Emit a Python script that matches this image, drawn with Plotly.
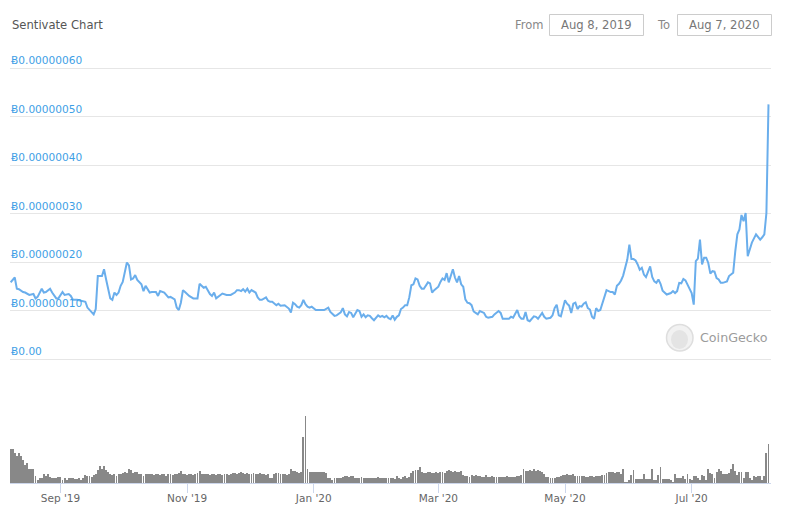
import pandas as pd
import plotly.graph_objects as go

# page is 793x520; the html body adds an 8px margin, so the figure is 8px smaller
OFF = 8
W, H = 793 - OFF, 520 - OFF

# ---------------- data ----------------
start_date = "2019-08-08"

# day offsets from start_date and price in 1e-8 BTC (satoshi)
price_day = [
    0, 2, 3, 4, 6, 7, 9, 11, 12, 13, 15, 16, 17, 19, 20, 22, 23, 25, 26, 28,
    29, 30, 32, 34, 36, 37, 39, 40, 41, 42, 44, 45, 46, 47, 48, 49, 50, 51, 52, 53,
    54, 56, 57, 58, 59, 60, 61, 63, 64, 65, 67, 68, 70, 71, 72, 74, 76, 77, 79, 80,
    81, 82, 83, 84, 86, 88, 90, 91, 93, 94, 95, 96, 97, 98, 99, 100, 102, 104, 106, 108,
    109, 110, 111, 112, 113, 114, 115, 116, 118, 119, 120, 121, 123, 124, 125, 126, 128, 129, 130, 132,
    133, 134, 135, 136, 137, 138, 139, 140, 141, 142, 143, 144, 145, 146, 147, 148, 149, 151, 153, 154,
    156, 157, 159, 160, 161, 162, 163, 164, 165, 167, 168, 169, 170, 171, 172, 173, 174, 175, 177, 178,
    179, 180, 181, 182, 183, 184, 185, 186, 187, 188, 189, 190, 191, 192, 193, 194, 195, 196, 197, 198,
    199, 200, 201, 202, 203, 204, 205, 206, 207, 208, 209, 210, 211, 212, 213, 214, 215, 216, 217, 218,
    219, 220, 221, 222, 223, 224, 225, 226, 228, 229, 230, 232, 233, 235, 236, 237, 238, 240, 241, 242,
    244, 245, 246, 247, 248, 249, 250, 251, 252, 253, 254, 256, 257, 258, 260, 261, 262, 263, 264, 265,
    266, 267, 268, 269, 270, 271, 272, 273, 274, 275, 276, 277, 278, 279, 280, 281, 282, 283, 284, 285,
    286, 287, 289, 290, 291, 292, 293, 294, 295, 296, 297, 298, 299, 300, 301, 302, 303, 304, 305, 306,
    307, 308, 309, 310, 311, 312, 313, 314, 316, 317, 318, 319, 320, 321, 322, 323, 324, 325, 326, 327,
    328, 329, 330, 331, 332, 333, 334, 335, 336, 337, 338, 339, 340, 341, 342, 343, 345, 346, 347, 348,
    349, 350, 351, 352, 353, 354, 355, 356, 357, 359, 360, 361, 362, 363, 364, 365,
]
price_sat = [
    15.8, 16.8, 14.5, 14.4, 13.8, 13.7, 13.2, 13.4, 12.5, 12.8, 14.5, 13.7, 13.8, 14.5, 13.7, 12.5, 12.5, 13.8, 13.2, 13.4,
    13.0, 12.2, 12.2, 12.0, 11.8, 10.6, 9.6, 9.2, 10.3, 17.1, 17.1, 18.5, 16.4, 14.4, 12.5, 12.2, 13.7, 13.2, 13.7, 15.1,
    15.9, 19.9, 19.3, 16.4, 16.6, 17.3, 16.3, 15.4, 14.0, 15.1, 13.7, 13.8, 13.8, 13.0, 14.0, 13.7, 12.7, 12.8, 12.3, 10.6,
    10.1, 11.6, 14.2, 13.8, 13.0, 12.5, 12.5, 15.5, 14.7, 14.9, 14.2, 13.4, 13.0, 13.7, 12.5, 12.8, 13.5, 13.2, 13.2, 13.7,
    14.2, 14.2, 14.0, 14.4, 13.9, 14.5, 13.7, 14.2, 13.7, 12.7, 12.2, 12.2, 12.7, 12.0, 11.8, 11.8, 11.1, 11.4, 11.0, 11.1,
    10.8, 10.4, 9.6, 11.6, 11.3, 10.8, 10.6, 11.1, 12.2, 11.3, 10.8, 10.6, 10.8, 10.4, 10.1, 10.1, 10.1, 10.1, 10.6, 9.7,
    8.9, 9.0, 9.6, 10.5, 9.2, 8.8, 9.7, 9.5, 8.6, 10.1, 9.9, 8.7, 9.2, 8.6, 9.0, 8.9, 8.4, 8.0, 9.0, 8.7,
    8.9, 8.6, 8.9, 8.4, 8.2, 9.0, 8.1, 8.7, 9.0, 10.3, 10.6, 11.1, 11.1, 12.7, 15.2, 15.4, 16.6, 16.4, 15.1, 14.5,
    14.5, 15.1, 15.8, 15.6, 13.7, 14.2, 14.6, 14.9, 15.9, 16.6, 16.3, 17.7, 15.8, 17.3, 18.5, 16.8, 15.8, 17.1, 15.4, 14.9,
    12.3, 11.6, 11.5, 11.1, 9.8, 9.5, 9.2, 9.9, 9.5, 8.7, 8.5, 8.7, 9.2, 9.9, 9.5, 8.3, 8.3, 8.3, 8.7, 8.5,
    10.1, 8.8, 8.3, 8.3, 9.7, 8.0, 7.8, 8.2, 8.8, 8.7, 8.3, 9.5, 8.7, 8.3, 8.5, 9.0, 10.5, 11.2, 9.0, 8.8,
    10.2, 12.1, 11.4, 11.0, 9.5, 11.4, 11.6, 10.3, 10.9, 10.8, 11.4, 11.7, 10.5, 10.2, 8.7, 8.3, 10.5, 9.9, 10.1, 11.6,
    12.6, 14.2, 13.8, 13.8, 13.3, 15.1, 15.5, 16.2, 17.2, 18.6, 20.5, 23.6, 20.6, 20.6, 20.3, 19.5, 18.4, 18.8, 17.4, 16.9,
    18.1, 19.1, 16.9, 16.0, 15.7, 16.4, 15.5, 14.1, 13.3, 13.5, 13.6, 14.0, 13.6, 14.0, 15.7, 15.6, 16.5, 16.2, 15.4, 14.7,
    13.6, 11.2, 20.2, 20.7, 24.6, 19.5, 20.9, 20.9, 19.8, 17.6, 18.1, 18.0, 16.7, 16.4, 15.7, 15.7, 16.0, 17.1, 17.4, 17.8,
    22.2, 25.7, 26.7, 29.7, 28.4, 30.1, 21.2, 22.6, 24.0, 25.7, 25.1, 24.6, 25.1, 25.7, 30.1, 52.5,
]

# daily volume (relative units), one value per day from start_date
volume = [
    34, 34, 30, 27, 30, 27, 23, 18, 20, 14, 14, 14, 7,
    3, 5, 5, 9, 7, 9, 6, 5, 5, 5, 6, 6, 3, 5, 3, 5, 5, 5, 4, 4, 5, 3, 5, 8, 7, 7, 6, 8,
    9, 13, 17, 14, 17, 13, 11, 9, 8, 9, 7, 9, 9, 10, 11, 10, 14, 13, 10, 11, 11, 9, 9, 7, 9, 9,
    9, 9, 8, 9, 9, 8, 9, 9, 7, 9,
    9, 8, 9, 9, 10, 12, 9, 9, 8, 9,
    9, 8, 9, 10, 12, 9, 9, 9, 9, 8,
    9, 9, 8, 9, 9, 8, 9, 9, 8, 9,
    10, 10, 9, 10, 11, 10, 9, 10, 9, 9,
    10, 9, 9, 10, 9, 9, 8, 9, 5, 5,
    9, 10, 10, 9, 9, 9, 8, 9,
    14, 12, 12, 11, 10, 11, 46, 67, 14, 11, 11, 11, 11, 11, 11, 11, 11, 10,
    5, 5, 3, 5, 5, 5, 5, 6, 7, 7,
    6, 7, 7, 5, 5, 5, 6, 5, 5, 5,
    5, 5, 5, 5, 6, 5, 5, 5, 5, 5,
    5, 5, 4, 7, 5,
    4, 6, 7, 5, 6,
    10, 12, 13, 13, 16,
    11, 10, 10, 11, 11, 10, 10, 11, 10, 11, 11, 10,
    12, 13, 12,
    11, 12, 11, 11, 12,
    8, 7, 7, 6, 8, 7, 8, 7, 7, 6, 6, 8, 6, 6, 7, 6,
    6, 6, 6, 6, 6, 7, 6, 6, 6, 6, 7, 7, 8,
    14,
    12, 12, 13, 12, 14, 12, 13, 12, 11, 9,
    6, 6, 5, 5, 5, 6, 6, 7,
    8, 8, 9, 8, 8, 9, 7, 7, 7, 7, 7,
    6, 6, 7, 7, 6, 7, 7, 7, 8, 8,
    10, 11, 11, 11, 10, 11, 11, 9,
    14,
    1, 1, 3, 8, 13, 4, 4, 4, 4, 9, 4, 4, 4, 14, 3, 3, 8, 16, 4, 4,
    4, 4, 3, 1, 9, 5, 5, 5, 7, 4, 9, 4, 3, 7, 7, 5, 3, 8, 7, 3,
    14, 10, 9, 5, 11, 14, 12, 9, 9, 9, 10, 14, 19, 12, 8, 11, 11, 5, 11, 11,
    5, 3, 7, 6, 7, 7, 3, 7, 30, 39,
]

y_tick_vals = [0, 1e-7, 2e-7, 3e-7, 4e-7, 5e-7, 6e-7]
y_tick_text = ["Ƀ0.00", "Ƀ0.00000010", "Ƀ0.00000020", "Ƀ0.00000030",
               "Ƀ0.00000040", "Ƀ0.00000050", "Ƀ0.00000060"]

title_text = "Sentivate Chart"
from_text = "Aug 8, 2019"
to_text = "Aug 7, 2020"

# ---------------- build ----------------
t0 = pd.Timestamp(start_date)
price_dates = [t0 + pd.Timedelta(days=d) for d in price_day]
price_vals = [v * 1e-8 for v in price_sat]
vol_dates = [t0 + pd.Timedelta(days=i) for i in range(len(volume))]

FONT = "DejaVu Sans"


def px_x(px):
    # page pixel -> paper fraction
    return (px - OFF) / W


def px_y(py):
    return 1 - (py - OFF) / H


fig = go.Figure()
fig.add_trace(go.Bar(
    x=vol_dates, y=volume, xaxis="x", yaxis="y2",
    marker=dict(color="#888888", line=dict(width=0)),
    width=0.44 * 86400000, showlegend=False, hoverinfo="skip",
))
fig.add_trace(go.Scatter(
    x=price_dates, y=price_vals, xaxis="x", yaxis="y",
    mode="lines", line=dict(color="#6aaeec", width=2),
    showlegend=False,
))

x_start = t0 - pd.Timedelta(hours=7)
x_end = t0 + pd.Timedelta(days=366, hours=5)

# price axis: 0 at page y=359, 6e-7 at y=68 ; domain top extended to y=66
price_top = 6e-7 * (359 - 66) / (359 - 68)

fig.update_layout(
    template="none",
    width=W, height=H,
    margin=dict(l=0, r=0, t=0, b=0, pad=0),
    paper_bgcolor="white", plot_bgcolor="white",
    font=dict(family=FONT, color="#666666"),
    bargap=0,
    xaxis=dict(
        domain=[px_x(10), px_x(771)], anchor="y2", automargin=False,
        range=[x_start, x_end], type="date",
        showgrid=False, zeroline=False,
        showline=True, linecolor="#ccd6eb", linewidth=1,
        ticks="outside", ticklen=9, tickcolor="#ccd6eb", tickwidth=1,
        tick0="2019-09-01", dtick="M2", tickformat="%b '%y",
        ticklabelstandoff=-4,
        tickfont=dict(size=10.5, color="#666666", family=FONT),
    ),
    yaxis=dict(
        domain=[px_y(359), px_y(66)], anchor="x", automargin=False,
        range=[0, price_top],
        tickvals=y_tick_vals, ticktext=y_tick_text,
        ticklabelposition="inside top", ticklabeloverflow="allow",
        ticklabelstandoff=-2,
        tickfont=dict(size=10.6, color="#3f9fe6", family=FONT),
        showgrid=True, gridcolor="#e6e6e6", gridwidth=1,
        zeroline=True, zerolinecolor="#e6e6e6", zerolinewidth=1,
        showline=False, ticks="",
    ),
    yaxis2=dict(
        domain=[px_y(483), px_y(400)], anchor="x", automargin=False,
        range=[0, 83.4], visible=False, showgrid=False, zeroline=False,
    ),
)

shapes = []
annotations = []

# header
annotations.append(dict(text=title_text, x=px_x(10), y=px_y(24.5), xref="paper", yref="paper",
                        xanchor="left", yanchor="middle", showarrow=False,
                        font=dict(size=11.6, color="#555555", family=FONT)))
annotations.append(dict(text="From", x=px_x(512.5), y=px_y(24.5), xref="paper", yref="paper",
                        xanchor="left", yanchor="middle", showarrow=False,
                        font=dict(size=11.5, color="#888888", family=FONT)))
annotations.append(dict(text="To", x=px_x(655), y=px_y(24.5), xref="paper", yref="paper",
                        xanchor="left", yanchor="middle", showarrow=False,
                        font=dict(size=11.5, color="#888888", family=FONT)))
for (bx0, bx1, txt) in [(549.5, 643.5, from_text), (677.5, 771.5, to_text)]:
    shapes.append(dict(type="rect", xref="paper", yref="paper",
                       x0=px_x(bx0), x1=px_x(bx1), y0=px_y(35.5), y1=px_y(14.5),
                       line=dict(color="#cccccc", width=1), fillcolor="rgba(0,0,0,0)"))
    annotations.append(dict(text=txt, x=px_x((bx0 + bx1) / 2), y=px_y(24.5), xref="paper", yref="paper",
                            xanchor="center", yanchor="middle", showarrow=False,
                            font=dict(size=11.6, color="#777777", family=FONT)))

# CoinGecko watermark
shapes.append(dict(type="circle", xref="paper", yref="paper",
                   x0=px_x(666.5), x1=px_x(693), y0=px_y(351), y1=px_y(324.5),
                   line=dict(color="#dedede", width=1.5), fillcolor="#f2f2f2"))
shapes.append(dict(type="circle", xref="paper", yref="paper",
                   x0=px_x(671), x1=px_x(688), y0=px_y(349), y1=px_y(330),
                   line=dict(color="#e2e2e2", width=0), fillcolor="#e4e4e4"))
annotations.append(dict(text="CoinGecko", x=px_x(697.5), y=px_y(337.5), xref="paper", yref="paper",
                        xanchor="left", yanchor="middle", showarrow=False,
                        font=dict(size=12.7, color="#9b9b9b", family=FONT)))

fig.update_layout(shapes=shapes, annotations=annotations)

fig.write_html("out.html")
